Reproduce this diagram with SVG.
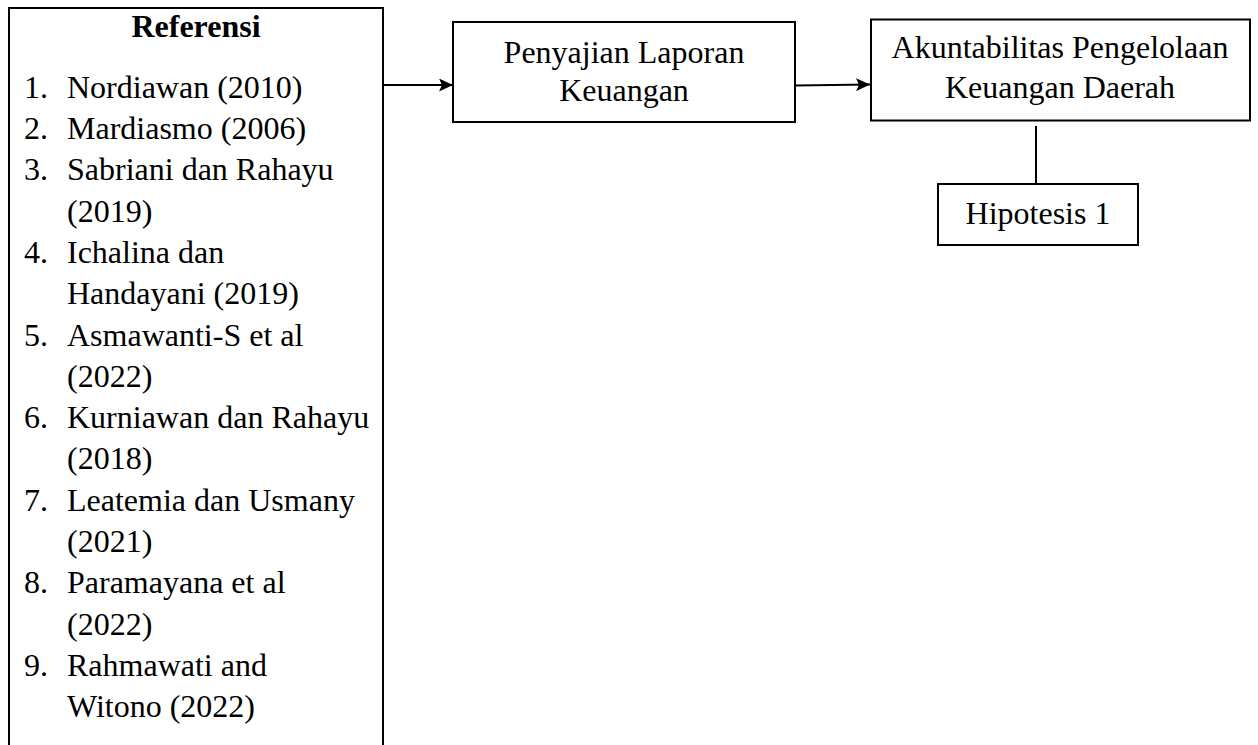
<svg xmlns="http://www.w3.org/2000/svg" width="1258" height="745" viewBox="0 0 1258 745">
<style>
.box{fill:#fff;stroke:#000;stroke-width:2}
.t{font-family:"Liberation Serif","Times New Roman",serif;font-size:32px;fill:#000}
.c{text-anchor:middle}
.b{font-weight:bold}
.conn{stroke:#000;stroke-width:2;fill:none}
</style>
<defs>
<marker id="arr" markerWidth="14" markerHeight="13" refX="14" refY="6.5" orient="auto" markerUnits="userSpaceOnUse">
<path d="M0,0 L14,6.5 L0,13 L3,6.5 Z" fill="#000"/>
</marker>
</defs>
<rect width="1258" height="745" fill="#fff"/>
<g id="referensi">
<path class="conn" d="M9,760 L9,8 L383,8 L383,760"/>
<text class="t b c" x="196" y="37">Referensi</text>
<g class="t">
<text x="24" y="98">1.</text><text x="67" y="98">Nordiawan (2010)</text>
<text x="24" y="139">2.</text><text x="67" y="139">Mardiasmo (2006)</text>
<text x="24" y="180">3.</text><text x="67" y="180">Sabriani dan Rahayu</text>
<text x="67" y="222">(2019)</text>
<text x="24" y="263">4.</text><text x="67" y="263">Ichalina dan</text>
<text x="67" y="304">Handayani (2019)</text>
<text x="24" y="346">5.</text><text x="67" y="346">Asmawanti-S et al</text>
<text x="67" y="387">(2022)</text>
<text x="24" y="428">6.</text><text x="67" y="428">Kurniawan dan Rahayu</text>
<text x="67" y="469">(2018)</text>
<text x="24" y="511">7.</text><text x="67" y="511">Leatemia dan Usmany</text>
<text x="67" y="552">(2021)</text>
<text x="24" y="593">8.</text><text x="67" y="593">Paramayana et al</text>
<text x="67" y="635">(2022)</text>
<text x="24" y="676">9.</text><text x="67" y="676">Rahmawati and</text>
<text x="67" y="717">Witono (2022)</text>
</g>
</g>
<g id="penyajian">
<rect class="box" x="453" y="22" width="342" height="100"/>
<text class="t c" x="624" y="63">Penyajian Laporan</text>
<text class="t c" x="624" y="101">Keuangan</text>
</g>
<g id="akuntabilitas">
<rect class="box" x="871" y="19.5" width="379" height="101"/>
<text class="t c" x="1060" y="58">Akuntabilitas Pengelolaan</text>
<text class="t c" x="1060" y="98">Keuangan Daerah</text>
</g>
<g id="hipotesis">
<rect class="box" x="938" y="184" width="200" height="61"/>
<text class="t c" x="1038" y="224">Hipotesis 1</text>
</g>
<g id="connectors">
<line class="conn" x1="383" y1="85" x2="453" y2="85" marker-end="url(#arr)"/>
<line class="conn" x1="795" y1="85.5" x2="870" y2="84.5" marker-end="url(#arr)"/>
<line class="conn" x1="1036" y1="126" x2="1036" y2="184"/>
</g>
</svg>
